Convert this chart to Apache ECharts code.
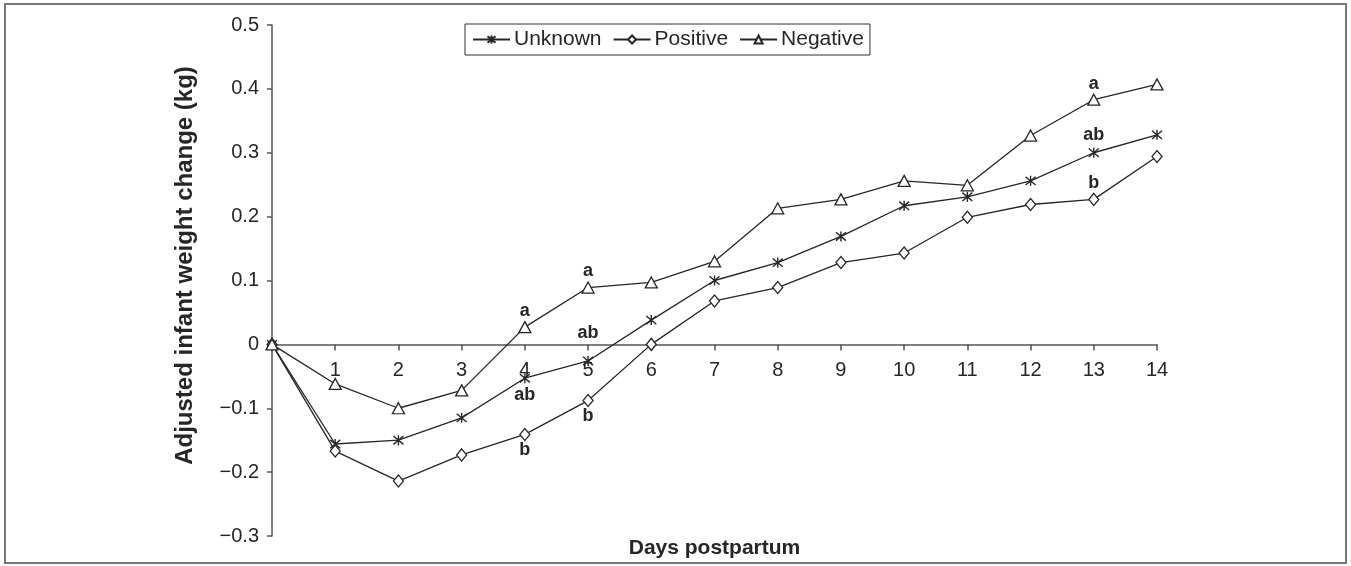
<!DOCTYPE html>
<html>
<head>
<meta charset="utf-8">
<script src="https://cdn.jsdelivr.net/npm/echarts@6/dist/echarts.min.js"></script>
<style>
html,body{margin:0;padding:0;background:#fff;}
#chart{width:1351px;height:566px;}
</style>
</head>
<body>
<div id="chart"></div>
<script>
const days = [0,1,2,3,4,5,6,7,8,9,10,11,12,13,14];
const unknownVals  = [0,-0.156,-0.150,-0.115,-0.053,-0.026,0.038,0.100,0.128,0.169,0.217,0.231,0.256,0.300,0.328];
const positiveVals = [0,-0.167,-0.214,-0.173,-0.141,-0.088,0.000,0.068,0.089,0.128,0.143,0.199,0.219,0.227,0.294];
const negativeVals = [0,-0.062,-0.100,-0.072,0.027,0.089,0.097,0.130,0.213,0.227,0.256,0.249,0.327,0.383,0.407];
const seriesNames = ['Unknown','Positive','Negative'];
// significance letters: [day, letter, side]
const unknownNotes  = [[4,'ab','bottom'],[5,'ab','top'],[13,'ab','top']];
const positiveNotes = [[4,'b','bottom'],[5,'b','bottom'],[13,'b','top']];
const negativeNotes = [[4,'a','top'],[5,'a','top'],[13,'a','top']];

const ink = '#262626';
const asterisk = 'path://M0,0L10,10M10,0L0,10M5,-1L5,11';
const font = 'Liberation Sans, Arial, sans-serif';

function buildData(vals, notes){
  return days.map((d,i)=>{
    const item = {value:[d, vals[i]]};
    const n = notes.find(x=>x[0]===d);
    if(n){
      item.label = {show:true, formatter:n[1], position:n[2], distance:n[2]==='top'?1:0,
        fontSize:18, fontWeight:'bold', color:ink, fontFamily:font};
    }
    return item;
  });
}
// the 'ab' above Unknown at day 5 sits higher (above the axis line)
const uData = buildData(unknownVals, unknownNotes);
uData[5].label.offset = [0,-10];

const chart = echarts.init(document.getElementById('chart'));
chart.setOption({
  animation:false,
  backgroundColor:'#fff',
  textStyle:{fontFamily:font},
  graphic:[{type:'rect', shape:{x:5,y:4,width:1341,height:559}, style:{fill:'none', stroke:'#777', lineWidth:2}, silent:true}],
  legend:{
    left:465, top:24, padding:[5,6,5,7], itemGap:11, itemWidth:37, itemHeight:10,
    borderColor:'#333', borderWidth:1,
    textStyle:{fontSize:21, color:ink, fontFamily:font, padding:[0,0,0,-1]},
    data:seriesNames
  },
  grid:{left:272, right:194, top:25, bottom:30, containLabel:false, outerBoundsMode:'none'},
  xAxis:{
    type:'value', min:0, max:14, interval:1,
    name:'Days postpartum', nameLocation:'middle', nameGap:2,
    nameTextStyle:{fontSize:21, fontWeight:'bold', color:ink, fontFamily:font, verticalAlign:'top'},
    nameMoveOverlap:false,
    axisLine:{show:true, onZero:true, lineStyle:{color:'#555', width:1.5}},
    axisTick:{show:true, length:6, lineStyle:{color:'#555', width:1.5}},
    axisLabel:{fontSize:20, color:ink, margin:-176, fontFamily:font,
      formatter:v=> v===0 ? '' : String(v)},
    splitLine:{show:false}
  },
  yAxis:{
    type:'value', min:-0.3, max:0.5, interval:0.1,
    name:'Adjusted infant weight change (kg)', nameLocation:'middle', nameGap:75,
    nameTextStyle:{fontSize:24, fontWeight:'bold', color:ink, fontFamily:font, padding:[0,0,0,30]},
    axisLine:{show:true, onZero:false, lineStyle:{color:'#555', width:1.5}},
    axisTick:{show:true, length:5, lineStyle:{color:'#555', width:1.5}},
    axisLabel:{fontSize:20, color:ink, margin:13, fontFamily:font,
      formatter:v=>{ const r=Math.round(v*10)/10; if(r===0) return '0'; return r<0 ? '\u2212'+Math.abs(r) : String(r);} },
    splitLine:{show:false}
  },
  series:[
    {name:'Unknown', type:'line', data:uData, symbol:asterisk, symbolSize:10,
      lineStyle:{color:ink, width:1.3}, itemStyle:{color:'none', borderColor:ink, borderWidth:1.4}, z:3},
    {name:'Positive', type:'line', data:buildData(positiveVals, positiveNotes), symbol:'diamond', symbolSize:[10,12],
      lineStyle:{color:ink, width:1.3}, itemStyle:{color:'#fff', borderColor:ink, borderWidth:1.3}, z:3},
    {name:'Negative', type:'line', data:buildData(negativeVals, negativeNotes), symbol:'triangle', symbolSize:[12,11],
      lineStyle:{color:ink, width:1.3}, itemStyle:{color:'#fff', borderColor:ink, borderWidth:1.3}, z:3}
  ]
});
</script>
</body>
</html>
